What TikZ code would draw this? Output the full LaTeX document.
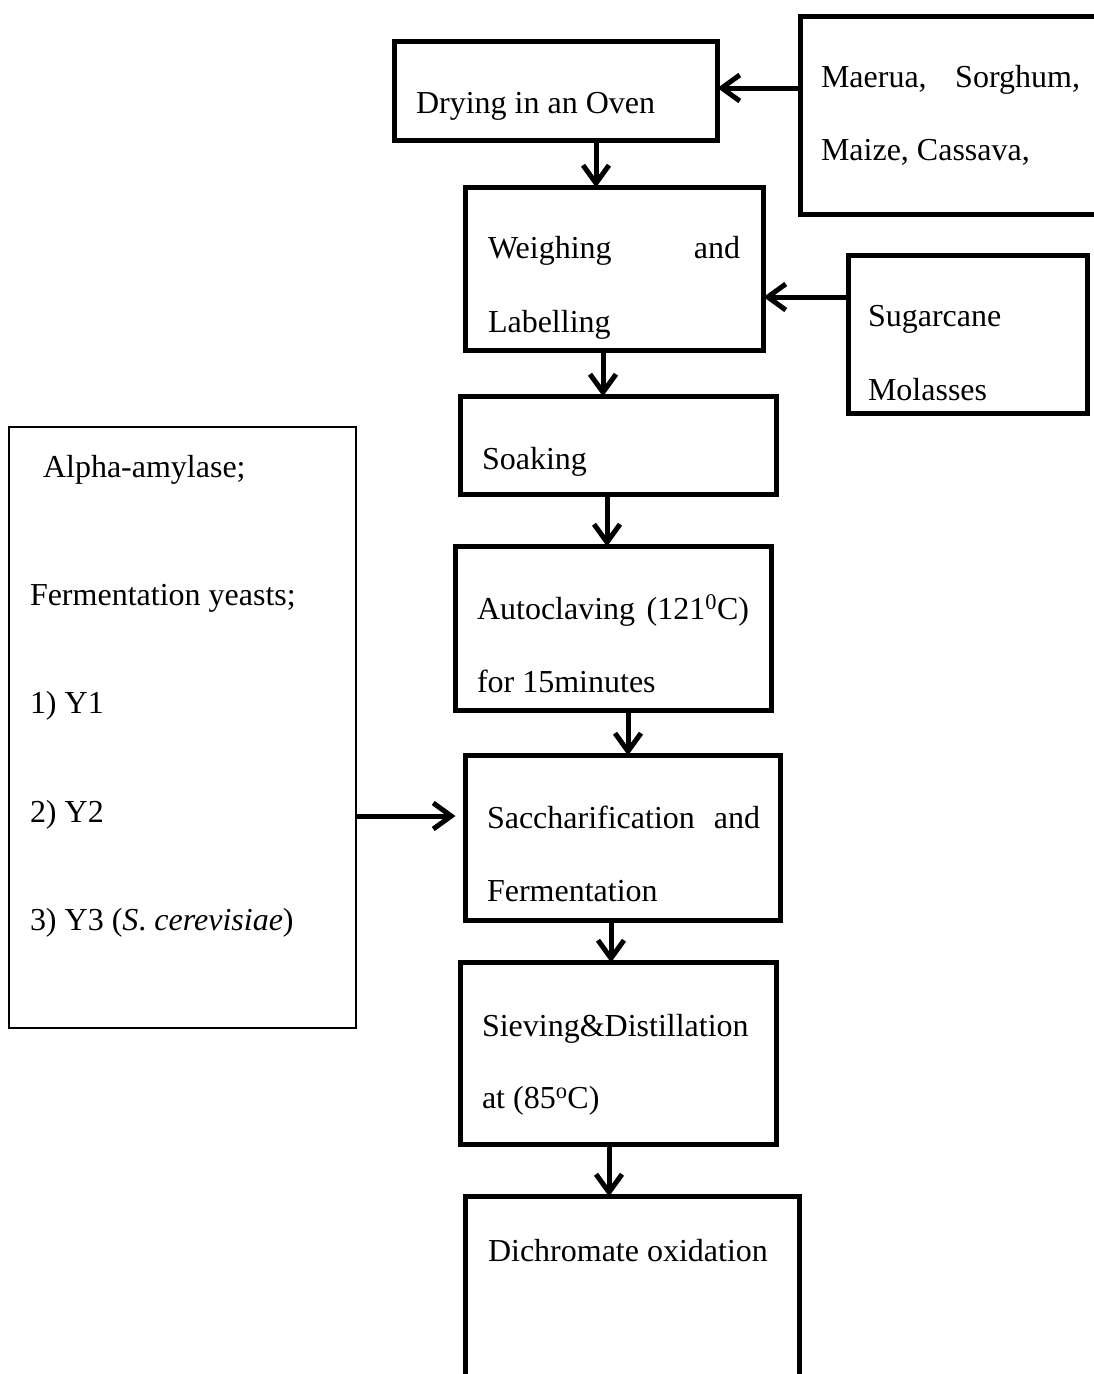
\documentclass[tikz,border=0pt]{standalone}
\usepackage{fontspec}
\setmainfont{Liberation Serif}
\usetikzlibrary{arrows.meta}
\begin{document}
\begin{tikzpicture}[x=1pt,y=-1pt,
  box/.style={draw, line width=5pt, rectangle, inner sep=0pt, outer sep=0pt},
  thinbox/.style={draw, line width=1.3pt, rectangle, inner sep=0pt, outer sep=0pt},
  txt/.style={inner sep=0pt, outer sep=0pt, font=\fontsize{32}{38}\selectfont, anchor=base west},
  txte/.style={txt, anchor=base east},
  arr/.style={line width=5pt, -{Straight Barb[length=18pt,width=26pt]}}]
\useasboundingbox (0,0) rectangle (1094,1374);
\clip (0,0) rectangle (1094,1374);
% boxes
\node[box, minimum width=323pt, minimum height=99pt] (drying) at (556,91) {};
\node[box, minimum width=299.5pt, minimum height=198pt] (maerua) at (950.25,115.5) {};
\node[box, minimum width=298pt, minimum height=163pt] (weigh) at (614.5,269) {};
\node[box, minimum width=239pt, minimum height=158pt] (sugar) at (968,334.5) {};
\node[box, minimum width=316pt, minimum height=98pt] (soak) at (618.5,445.5) {};
\node[box, minimum width=316pt, minimum height=164pt] (auto) at (613.5,628.5) {};
\node[box, minimum width=315pt, minimum height=165pt] (sacch) at (623,838) {};
\node[box, minimum width=316pt, minimum height=182pt] (sieve) at (618.5,1053.5) {};
\node[box, minimum width=334pt, minimum height=204pt] (dich) at (632.5,1298.5) {};
\node[thinbox, minimum width=347pt, minimum height=601pt] (enz) at (182.5,727.5) {};
% arrows
\draw[arr] ([yshift=3pt]maerua.west |- drying.east) -- ([yshift=3pt]drying.east);
\draw[arr] ([yshift=37.5pt]sugar.west) -- ([yshift=37.5pt]sugar.west -| weigh.east);
\draw[arr] ([xshift=40pt]drying.south) -- ([xshift=40pt]drying.south |- weigh.north);
\draw[arr] ([xshift=-11.5pt]weigh.south) -- ([xshift=-11.5pt]weigh.south |- soak.north);
\draw[arr] ([xshift=-11.5pt]soak.south) -- ([xshift=-11.5pt]soak.south |- auto.north);
\draw[arr] ([xshift=14.5pt]auto.south) -- ([xshift=14.5pt]auto.south |- sacch.north);
\draw[arr] ([xshift=-12pt]sacch.south) -- ([xshift=-12pt]sacch.south |- sieve.north);
\draw[arr] ([xshift=-9.5pt]sieve.south) -- ([xshift=-9.5pt]sieve.south |- dich.north);
\draw[arr, shorten >=10pt] ([yshift=-88.5pt]enz.east) -- ([yshift=-88.5pt]enz.east -| sacch.west);
% texts
\node[txt] (t1) at (416,113) {Drying in an Oven};
\node[txt] (t2) at (821,87) {Maerua,};
\node[txte] (t3) at (1080,87) {Sorghum,};
\node[txt] (t4) at (821,160) {Maize, Cassava,};
\node[txt] (t5) at (488,258) {Weighing};
\node[txte] (t6) at (740,258) {and};
\node[txt] (t7) at (488,332) {Labelling};
\node[txt] (t8) at (868,326) {Sugarcane};
\node[txt] (t9) at (868,400) {Molasses};
\node[txt] (t10) at (482,469) {Soaking};
\node[txt] (t11) at (477,619) {Autoclaving};
\node[txte] (t12) at (749,619) {(121\textsuperscript{0}C)};
\node[txt] (t13) at (477,692) {for 15minutes};
\node[txt] (t14) at (487,828) {Saccharification};
\node[txte] (t15) at (760,828) {and};
\node[txt] (t16) at (487,901) {Fermentation};
\node[txt] (t17) at (482,1036) {Sieving\&Distillation};
\node[txt] (t18) at (482,1108) {at (85\textsuperscript{o}C)};
\node[txt] (t19) at (488,1261) {Dichromate oxidation};
\node[txt] (t20) at (43,477) {Alpha-amylase;};
\node[txt] (t21) at (30,605) {Fermentation yeasts;};
\node[txt] (t22) at (30,713) {1) Y1};
\node[txt] (t23) at (30,822) {2) Y2};
\node[txt] (t24) at (30,930) {3) Y3 (\textit{S}. \textit{cerevisiae})};
\end{tikzpicture}
\end{document}
